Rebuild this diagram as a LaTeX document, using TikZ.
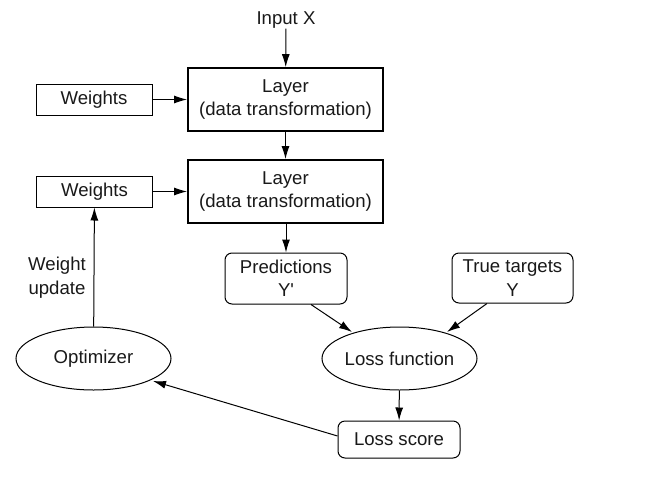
\documentclass[tikz,border=0pt]{standalone}
\usepackage{fontspec}
\setmainfont{Liberation Sans}[Ligatures=TeXOff]
\usetikzlibrary{shapes.geometric,arrows.meta}
\begin{document}
\begin{tikzpicture}[x=1pt,y=-1pt,
  every node/.style={font=\fontsize{18.6}{23.5}\selectfont, text=black!90, align=center, inner sep=0pt},
  layerbox/.style={draw, line width=1.8pt, fill=white, minimum width=195pt, minimum height=63pt},
  wbox/.style={draw, line width=1pt, fill=white, minimum width=116pt, minimum height=31pt},
  rbox/.style={draw, line width=1pt, rounded corners=7pt, fill=white},
  ell/.style={draw, ellipse, line width=1pt, fill=white, minimum width=155pt, minimum height=63pt},
  conn/.style={-{Latex[length=13pt,width=8pt]}, line width=1pt}
]
\useasboundingbox (0,0) rectangle (662,491);
\node (in) at (286,20) {Input X};
\node[layerbox] (l1) at (285.5,99.5) {Layer\\(data transformation)};
\node[layerbox] (l2) at (285.5,191.5) {Layer\\(data transformation)};
\node[wbox] (w1) at (94,99.5) {Weights};
\node[wbox] (w2) at (94.5,191.5) {Weights};
\node[rbox, minimum width=122pt, minimum height=51pt] (pred) at (286,278.5) {Predictions\\Y'};
\node[rbox, minimum width=121pt, minimum height=50pt] (true) at (512.5,278) {True targets\\Y};
\node[ell] (opt) at (93.5,358.5) {Optimizer};
\node[ell] (loss) at (399.5,358.5) {Loss function};
\node[rbox, minimum width=122pt, minimum height=37pt] (score) at (399,439.5) {Loss score};
\node (wu) at (57,277.5) {Weight\\update};
\draw[conn] (in) -- (l1);
\draw[conn] (w1) -- (l1);
\draw[conn] (l1) -- (l2);
\draw[conn] (w2) -- (l2);
\draw[conn] (l2.south -| pred.north) -- (pred);
\draw[conn] (pred.south -| 311,0) -- (352,332);
\draw[conn] (true.south -| 487,0) -- (447,332);
\draw[conn] (loss) -- (score);
\draw[conn] (score.west |- 0,436) -- (153,381);
\draw[conn] (opt) -- (w2);
\end{tikzpicture}
\end{document}
